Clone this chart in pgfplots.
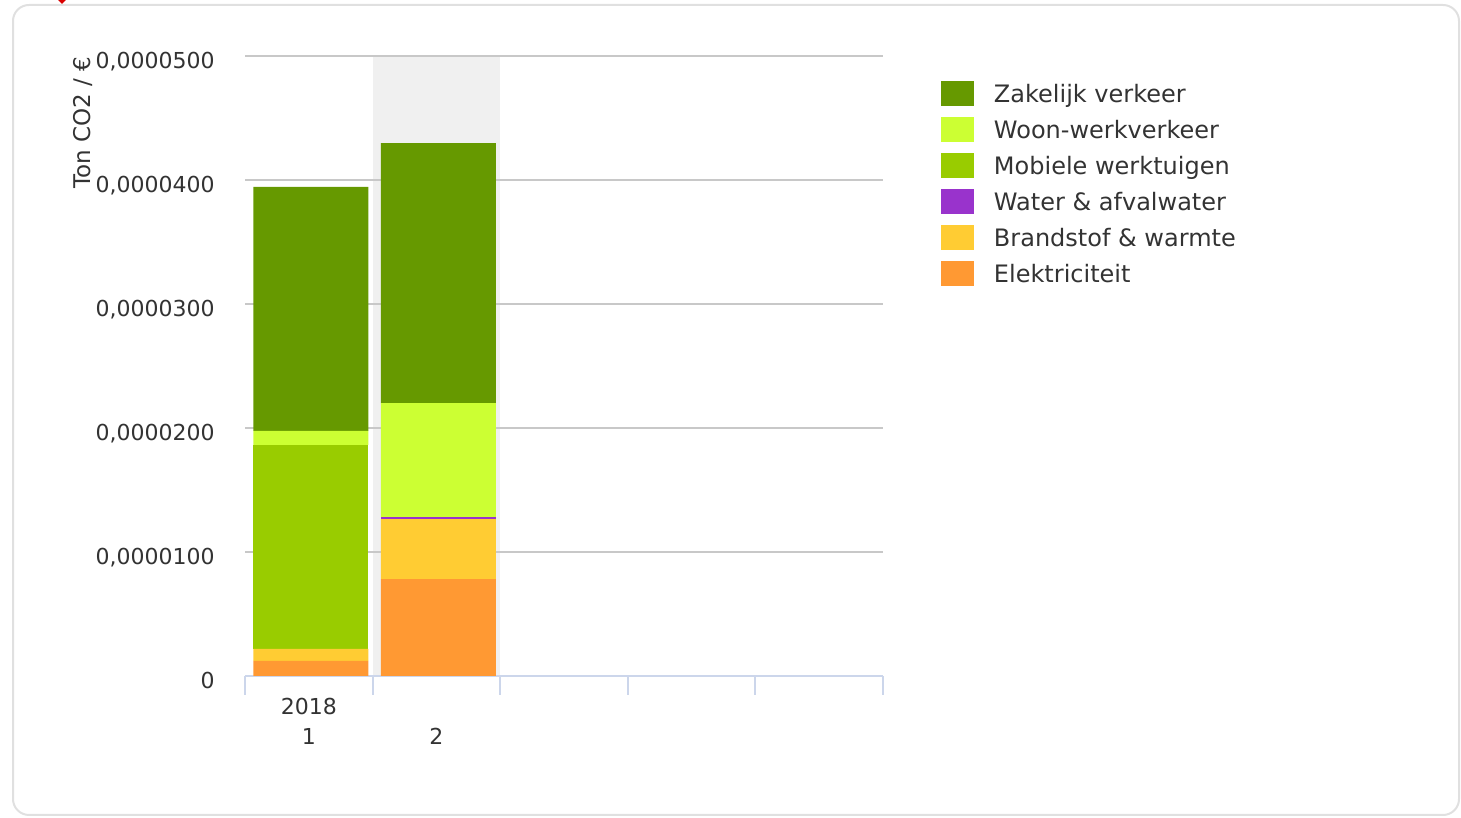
\documentclass[border=0pt]{standalone}
\usepackage{pgfplots}
\pgfplotsset{compat=1.18}
\usepackage{fontspec}
\setmainfont{DejaVu Sans}
\definecolor{zak}{HTML}{669900}
\definecolor{woon}{HTML}{CCFF33}
\definecolor{mob}{HTML}{99CC00}
\definecolor{wat}{HTML}{9933CC}
\definecolor{brand}{HTML}{FFCC33}
\definecolor{elek}{HTML}{FF9933}
\definecolor{band}{HTML}{F0F0F0}
\definecolor{txt}{HTML}{333333}
\definecolor{axblue}{HTML}{CCD6EB}
\definecolor{gridc}{HTML}{C8C8C8}
\definecolor{frame}{HTML}{E0E0E0}
\begin{document}
\begin{tikzpicture}
% 1 px = 0.5pt
\path[use as bounding box] (0,0) rectangle (730.5pt,409pt);
\draw[frame, line width=1pt, rounded corners=8pt] (6.5pt,1.5pt) rectangle (729.5pt,406.5pt);
\fill[red!85!black] (29pt,409pt) -- (33pt,409pt) -- (31pt,407pt) -- cycle;
% highlighted second category (behind the axis)
\fill[band] (186.3pt,71pt) rectangle (250.1pt,381pt);
\node[rotate=90, anchor=east, inner sep=0pt, text=txt, font=\fontsize{11.5}{13}\selectfont]
  at (41.5pt,381pt) {Ton CO2 / €};
\begin{axis}[
    at={(122.5pt,71pt)}, anchor=south west,
    scale only axis, width=319pt, height=310pt,
    ybar stacked, bar width=57.5pt, bar shift=1pt,
    xmin=-0.5, xmax=4.5,
    ymin=0, ymax=0.00005,
    scaled y ticks=false,
    axis x line*=bottom, axis y line*=left,
    y axis line style={draw=none},
    x axis line style={color=axblue, line width=1pt},
    ytick={0,0.00001,0.00002,0.00003,0.00004,0.00005},
    yticklabels={{0},{0,0000100},{0,0000200},{0,0000300},{0,0000400},{0,0000500}},
    ymajorgrids, grid style={gridc, line width=1pt},
    ytick style={draw=none},
    yticklabel style={inner sep=0pt, xshift=-15pt, yshift=-2.3pt, text depth=0pt,
        text=txt, font=\fontsize{11}{13}\selectfont},
    xtick={0,1},
    xticklabels={{2018\\1},{\vphantom{2018}\\2}},
    xtick style={color=axblue, line width=1pt},
    major tick length=0pt,
    xticklabel style={align=center, inner sep=0pt, yshift=-11pt, text=txt,
        font=\fontsize{11}{15}\selectfont},
    extra x ticks={-0.5,0.5,1.5,2.5,3.5,4.5},
    extra x tick labels={},
    extra x tick style={grid=none, tick align=outside, major tick length=9.5pt},
    reverse legend,
    legend cell align=left,
    legend style={at={(1.0909,0.9597)}, anchor=north west, draw=none, fill=none,
        inner sep=0pt, outer sep=0pt, column sep=10pt, row sep=5.5pt,
        font=\fontsize{12}{14}\selectfont, text=txt,
        nodes={inner sep=0pt, text height=8.75pt, text depth=0pt}},
    legend image code/.code={\fill[#1] (0pt,-6.25pt) rectangle (16.5pt,6.25pt);},
]
\addplot[fill=elek, draw=none] coordinates {(0,0.00000121) (1,0.00000782)};
\addlegendentry{Elektriciteit}
\addplot[fill=brand, draw=none] coordinates {(0,0.00000097) (1,0.00000484)};
\addlegendentry{Brandstof \& warmte}
\addplot[fill=wat, draw=none] coordinates {(0,0) (1,0.00000016)};
\addlegendentry{Water \& afvalwater}
\addplot[fill=mob, draw=none] coordinates {(0,0.00001645) (1,0)};
\addlegendentry{Mobiele werktuigen}
\addplot[fill=woon, draw=none] coordinates {(0,0.00000113) (1,0.00000919)};
\addlegendentry{Woon-werkverkeer}
\addplot[fill=zak, draw=none] coordinates {(0,0.00001968) (1,0.00002097)};
\addlegendentry{Zakelijk verkeer}
\end{axis}
\end{tikzpicture}
\end{document}
